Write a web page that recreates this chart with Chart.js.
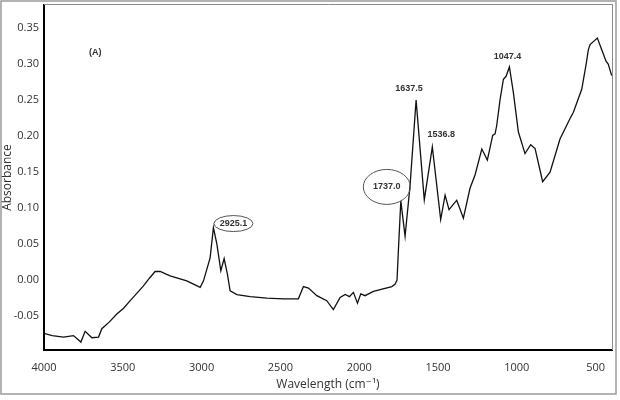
<!DOCTYPE html>
<html>
<head>
<meta charset="utf-8">
<script src="https://cdn.jsdelivr.net/npm/chart.js@4"></script>
<style>
  html, body { margin: 0; padding: 0; background: #fff; }
  canvas { display: block; }
</style>
</head>
<body>
<canvas id="spectrum" width="620" height="400"></canvas>
<script>
// spectrum (cm-1 / absorbance)
const wavenumbers = [4000, 3948, 3876, 3813, 3766, 3739, 3696, 3654, 3633, 3585, 3538, 3495, 3453, 3410, 3369, 3330, 3295, 3263, 3200, 3094, 3009, 2988, 2946, 2925, 2903, 2878, 2857, 2836, 2819, 2776, 2692, 2586, 2481, 2386, 2354, 2322, 2269, 2206, 2164, 2121, 2089, 2062, 2037, 2011, 1990, 1963, 1910, 1793, 1772, 1760, 1751, 1736, 1725, 1709, 1677, 1639, 1614, 1587, 1536, 1483, 1455, 1430, 1381, 1339, 1297, 1265, 1222, 1187, 1153, 1138, 1128, 1106, 1085, 1068, 1047, 1022, 990, 948, 912, 884, 836, 789, 726, 663, 641, 588, 560, 546, 535, 489, 461, 434, 420, 398];
const absorbance = [-0.074, -0.077, -0.079, -0.077, -0.086, -0.071, -0.080, -0.079, -0.0675, -0.058, -0.047, -0.039, -0.0285, -0.018, -0.008, 0.003, 0.012, 0.012, 0.006, -0.001, -0.010, -0.001, 0.031, 0.073, 0.050, 0.013, 0.030, 0.008, -0.015, -0.020, -0.023, -0.025, -0.026, -0.026, -0.009, -0.011, -0.0216, -0.0285, -0.041, -0.024, -0.020, -0.023, -0.017, -0.032, -0.019, -0.0216, -0.0157, -0.009, -0.0055, 0.000, 0.043, 0.110, 0.090, 0.061, 0.132, 0.250, 0.183, 0.1115, 0.185, 0.084, 0.118, 0.098, 0.111, 0.086, 0.1275, 0.146, 0.182, 0.1666, 0.201, 0.203, 0.214, 0.251, 0.279, 0.283, 0.296, 0.2607, 0.2056, 0.1757, 0.188, 0.1826, 0.1367, 0.150, 0.196, 0.224, 0.233, 0.265, 0.300, 0.320, 0.327, 0.336, 0.320, 0.304, 0.300, 0.284];

const xTicks = [4000, 3500, 3000, 2500, 2000, 1500, 1000, 500];
const yTicks = [-0.05, 0.00, 0.05, 0.10, 0.15, 0.20, 0.25, 0.30, 0.35];

// peak labels
const peakLabels = ['2925.1', '1737.0', '1637.5', '1536.8', '1047.4'];
const peakWaves = [2925, 1736, 1639, 1536, 1047];
const peakAbs = [0.073, 0.110, 0.250, 0.185, 0.296];
const circled = [true, true, false, false, false];
const panelLabel = '(A)';

var points = wavenumbers.map(function (w, i) { return { x: w, y: absorbance[i] }; });

// where each label sits relative to its peak, in px
var labelOffsets = [[20, -4], [-14, -14], [-7, -12], [9, -12], [-2, -10]];
var ellipseSizes = [[19.5, 8], [23.5, 17.5]];

var frame = {
    id: 'frame',
    afterDraw: function (chart) {
        var ctx = chart.ctx;
        var area = chart.chartArea;
        ctx.save();
        ctx.strokeStyle = '#9a9a9a';
        ctx.lineWidth = 1.5;
        ctx.strokeRect(1, 1, 615, 393);
        ctx.strokeStyle = '#8a8a8a';
        ctx.lineWidth = 1;
        ctx.beginPath();
        ctx.moveTo(area.left, area.top - 0.5);
        ctx.lineTo(area.right + 0.5, area.top - 0.5);
        ctx.lineTo(area.right + 0.5, area.bottom);
        ctx.stroke();
        ctx.restore();
    }
};

var peaks = {
    id: 'peaks',
    afterDatasetsDraw: function (chart) {
        var ctx = chart.ctx;
        var sx = chart.scales.x, sy = chart.scales.y;
        ctx.save();
        ctx.fillStyle = '#333';
        ctx.textAlign = 'center';
        ctx.textBaseline = 'middle';
        ctx.font = 'bold 9px "Liberation Sans", Arial, sans-serif';
        for (var i = 0; i < peakLabels.length; i++) {
            var px = sx.getPixelForValue(peakWaves[i]) + labelOffsets[i][0];
            var py = sy.getPixelForValue(peakAbs[i]) + labelOffsets[i][1];
            if (circled[i]) {
                var r = ellipseSizes[i];
                ctx.beginPath();
                ctx.ellipse(px, py, r[0], r[1], 0, 0, Math.PI * 2);
                ctx.strokeStyle = '#555';
                ctx.lineWidth = 1;
                ctx.stroke();
            }
            ctx.fillText(peakLabels[i], px, py);
        }
        ctx.fillText(panelLabel, sx.getPixelForValue(3675), sy.getPixelForValue(0.316));
        ctx.restore();
    }
};

var tickFont = { family: '"Open Sans", "DejaVu Sans", sans-serif', size: 11 };

var myChart = new Chart(document.getElementById('spectrum'), {
    type: 'line',
    data: {
        datasets: [{
            data: points,
            borderColor: '#111',
            borderWidth: 1.3,
            pointRadius: 0,
            tension: 0,
            fill: false
        }]
    },
    options: {
        responsive: false,
        animation: false,
        devicePixelRatio: 1,
        layout: { padding: { top: 5, right: 8, left: 0, bottom: 0 } },
        plugins: { legend: { display: false }, tooltip: { enabled: false } },
        scales: {
            x: {
                type: 'linear',
                reverse: true,
                min: 396,
                max: 4000,
                afterBuildTicks: function (s) { s.ticks = xTicks.map(function (v) { return { value: v }; }); },
                afterFit: function (s) { s.height = 50; s.paddingLeft = 0; s.paddingRight = 0; },
                grid: { display: false, drawTicks: false },
                border: { color: '#000', width: 2 },
                ticks: {
                    color: '#333', font: tickFont, padding: 11, maxRotation: 0, autoSkip: false,
                    callback: function (v) { return String(v); }
                },
                title: {
                    display: true,
                    text: 'Wavelength (cm\u207B\u00B9)',
                    color: '#333',
                    font: { family: '"Open Sans", "DejaVu Sans", sans-serif', size: 12 },
                    padding: { top: 4, bottom: 8 }
                }
            },
            y: {
                min: -0.097,
                max: 0.382,
                afterBuildTicks: function (s) { s.ticks = yTicks.map(function (v) { return { value: v }; }); },
                afterFit: function (s) { s.width = 44; s.paddingTop = 0; s.paddingBottom = 0; },
                grid: { display: false, drawTicks: false },
                border: { color: '#000', width: 2 },
                ticks: {
                    color: '#333',
                    font: tickFont,
                    padding: 5,
                    callback: function (v) { return v.toFixed(2); }
                },
                title: {
                    display: true,
                    text: 'Absorbance',
                    color: '#333',
                    font: { family: '"Open Sans", "DejaVu Sans", sans-serif', size: 12 },
                    padding: 0
                }
            }
        }
    },
    plugins: [frame, peaks]
});
</script>
</body>
</html>
